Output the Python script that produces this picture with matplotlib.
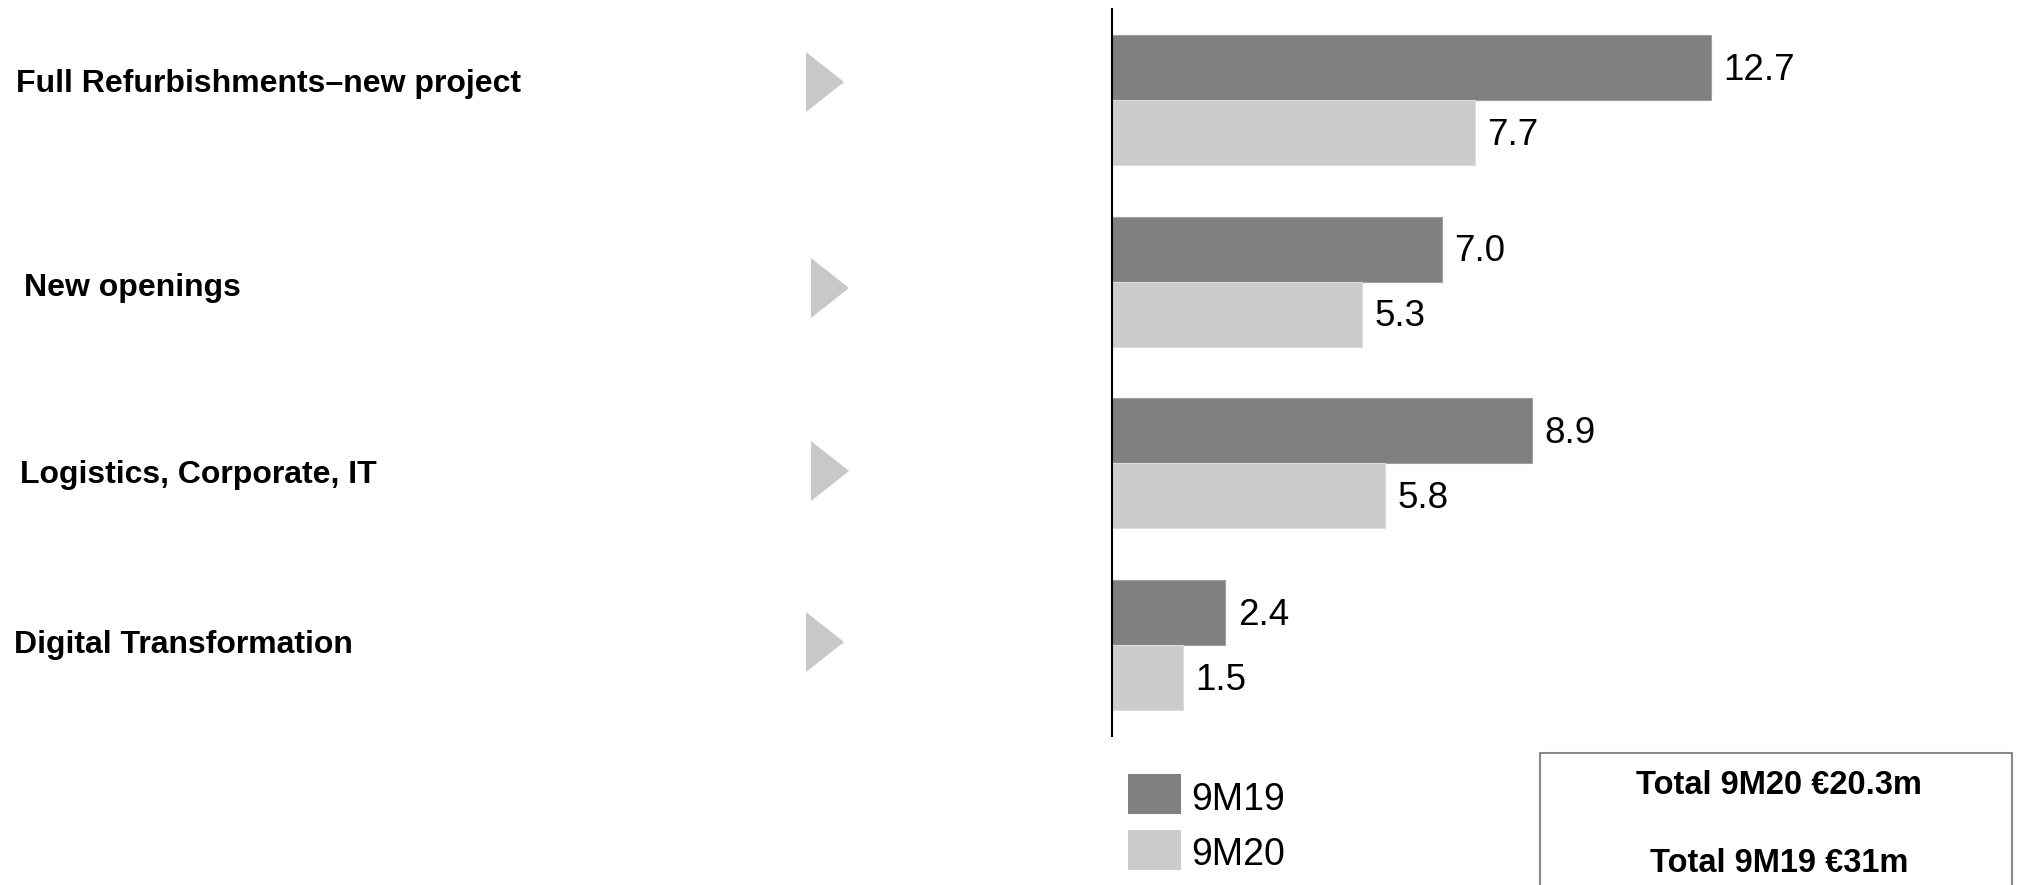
import matplotlib.pyplot as plt
from matplotlib.patches import Polygon, Rectangle

plt.rcParams['font.family'] = ['Liberation Sans', 'DejaVu Sans']

categories = ['Full Refurbishments\u2013new project', 'New openings',
              'Logistics, Corporate, IT', 'Digital Transformation']
values_9m19 = [12.7, 7.0, 8.9, 2.4]
values_9m20 = [7.7, 5.3, 5.8, 1.5]
series_names = ['9M19', '9M20']
totals = ['Total 9M20 \u20ac20.3m', 'Total 9M19 \u20ac31m']

DARK = '#808080'
LIGHT = '#cccccc'
ARROW = '#c8c8c8'

W, H = 2018, 885
fig = plt.figure(figsize=(W / 100, H / 100), dpi=100)


def fx(x):
    return x / W


def fy(y):
    # pixel y measured from the top
    return 1 - y / H


# bar axes: spine at x=1112, from y=9 to y=736
ax = fig.add_axes([fx(1112), fy(736), fx(W - 1112), (736 - 9) / H])
bar_h = 0.357
pos = list(range(len(categories)))
b1 = ax.barh([p - bar_h / 2 for p in pos], values_9m19, height=bar_h,
             color=DARK, edgecolor='#a0a0a0', linewidth=0.8)
b2 = ax.barh([p + bar_h / 2 for p in pos], values_9m20, height=bar_h,
             color=LIGHT, edgecolor='#dcdcdc', linewidth=0.8)
for p, v in zip(pos, values_9m19):
    ax.annotate('%.1f' % v, (v, p - bar_h / 2), xytext=(9, -2),
                textcoords='offset points', va='center', fontsize=26.5)
for p, v in zip(pos, values_9m20):
    ax.annotate('%.1f' % v, (v, p + bar_h / 2), xytext=(9, -2),
                textcoords='offset points', va='center', fontsize=26.5)
ax.set_ylim(3.5, -0.5)
ax.set_xlim(0, (W - 1112) / 47.15)
for s in ['top', 'right', 'bottom']:
    ax.spines[s].set_visible(False)
ax.spines['left'].set_linewidth(1.5)
ax.spines['left'].set_color('black')
ax.set_xticks([])
ax.set_yticks([])

# category labels and arrows on the left
label_x = [16, 24, 20, 14]
label_base = [92, 296, 483, 653]
arrow_x = [806, 811, 811, 806]
arrow_y = [82, 288, 471, 642]
for i, name in enumerate(categories):
    fig.text(fx(label_x[i]), fy(label_base[i]), name, fontsize=23,
             fontweight='bold', ha='left', va='baseline')
    x0, yc = arrow_x[i], arrow_y[i]
    tri = Polygon([(fx(x0), fy(yc - 30)), (fx(x0 + 38), fy(yc)), (fx(x0), fy(yc + 30))],
                  closed=True, transform=fig.transFigure, facecolor=ARROW,
                  edgecolor='none')
    fig.patches.append(tri)

# legend
leg_colors = [DARK, LIGHT]
leg_top = [774, 830]
leg_base = [810, 865]
for i, name in enumerate(series_names):
    fig.patches.append(Rectangle((fx(1128), fy(leg_top[i] + 40)), fx(53), 40 / H,
                                 transform=fig.transFigure, facecolor=leg_colors[i],
                                 edgecolor='none'))
    fig.text(fx(1191), fy(leg_base[i]), name, fontsize=27, ha='left', va='baseline')

# totals box
fig.patches.append(Rectangle((fx(1540), fy(H + 5)), fx(2012 - 1540), (H + 5 - 753) / H,
                             transform=fig.transFigure, facecolor='white',
                             edgecolor='#888888', linewidth=1.5))
tot_base = [794, 872]
for i, t in enumerate(totals):
    fig.text(fx(1779), fy(tot_base[i]), t, fontsize=23.5, fontweight='bold',
             ha='center', va='baseline')

fig.savefig('out.png', dpi=100)
